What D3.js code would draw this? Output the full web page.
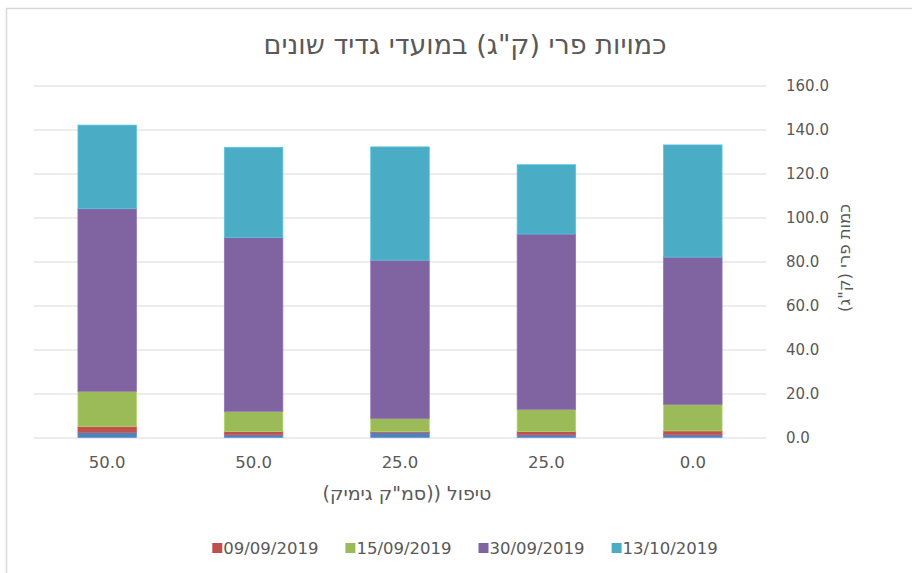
<!DOCTYPE html>
<html>
<head>
<meta charset="utf-8">
<script src="https://cdn.jsdelivr.net/npm/d3@7"></script>
<style>
  body { margin: 0; background: #fff; }
  text { font-family: "DejaVu Sans", sans-serif; fill: #595959; }
</style>
</head>
<body>
<script>
// categories (treatment), left to right as in the picture
var categories = ["50.0", "50.0", "25.0", "25.0", "0.0"];

// harvest dates, bottom to top; the first one has no legend entry
var seriesNames = ["02/09/2019", "09/09/2019", "15/09/2019", "30/09/2019", "13/10/2019"];
var seriesColors = ["#4f81bd", "#c0504d", "#9bbb59", "#8064a2", "#4bacc6"];
var inLegend = [false, true, true, true, true];

var s0 = [2.3, 1.2, 2.3, 1.2, 1.2];
var s1 = [2.7, 1.5, 0.4, 1.5, 1.8];
var s2 = [16.0, 9.2, 5.9, 10.1, 12.0];
var s3 = [83.0, 79.0, 72.0, 79.7, 67.0];
var s4 = [38.0, 41.0, 51.5, 31.5, 51.0];

var yTicks = [0, 20, 40, 60, 80, 100, 120, 140, 160];

var title = "כמויות פרי (ק\"ג) במועדי גדיד שונים";
var xTitle = "טיפול ((סמ\"ק גימיק)";
var yTitle = "כמות פרי (ק\"ג)";

var W = 912, H = 573;
var plot = {left: 34, right: 766, top: 85.5, bottom: 437.5};

var svg = d3.select("body").append("svg")
    .attr("width", W)
    .attr("height", H);

// chart frame (runs off right and bottom edges)
svg.append("rect")
    .attr("x", 6.5).attr("y", 8.5)
    .attr("width", W + 10).attr("height", H + 10)
    .style("fill", "#fff")
    .style("stroke", "#d9d9d9")
    .style("stroke-width", 1.5);

var x = d3.scaleBand()
    .domain(d3.range(categories.length))
    .range([plot.left, plot.right])
    .paddingInner(0.6)
    .paddingOuter(0.3);

var y = d3.scaleLinear()
    .domain([0, 160])
    .range([plot.bottom, plot.top]);

// gridlines
svg.append("g")
    .attr("class", "grid")
    .attr("transform", "translate(" + plot.left + ",0)")
    .call(d3.axisRight(y).tickValues(yTicks).tickSize(plot.right - plot.left).tickFormat(""))
    .call(function(g) {
      g.select(".domain").remove();
      g.selectAll("line").style("stroke", "#d9d9d9").style("stroke-width", 1);
    });

// right axis labels
svg.append("g")
    .attr("transform", "translate(" + plot.right + ",0)")
    .call(d3.axisRight(y).tickValues(yTicks).tickSize(0).tickPadding(20).tickFormat(d3.format(".1f")))
    .call(function(g) {
      g.select(".domain").remove();
      g.selectAll("text")
        .style("font-size", "15px")
        .style("fill", "#595959")
        .style("font-family", "'DejaVu Sans', sans-serif");
    });

// stack
var table = categories.map(function(c, i) {
  return {i: i, s0: s0[i], s1: s1[i], s2: s2[i], s3: s3[i], s4: s4[i]};
});
var keys = ["s0", "s1", "s2", "s3", "s4"];
var stacked = d3.stack().keys(keys)(table);

svg.append("g")
  .selectAll("g.layer")
  .data(stacked)
  .enter().append("g")
    .attr("class", "layer")
    .style("fill", function(d, k) { return seriesColors[k]; })
    .style("stroke", function(d, k) { return d3.color(seriesColors[k]).brighter(0.4); })
    .style("stroke-width", 0.75)
  .selectAll("rect")
    .data(function(d) { return d; })
    .enter().append("rect")
      .attr("x", function(d) { return x(d.data.i); })
      .attr("y", function(d) { return y(d[1]); })
      .attr("width", x.bandwidth())
      .attr("height", function(d) { return y(d[0]) - y(d[1]); });

// x labels
svg.append("g")
    .attr("transform", "translate(0," + plot.bottom + ")")
    .call(d3.axisBottom(x).tickSize(0).tickPadding(19).tickFormat(function(i) { return categories[i]; }))
    .call(function(g) {
      g.select(".domain").remove();
      g.selectAll("text")
        .style("font-size", "16.5px")
        .style("fill", "#595959")
        .style("font-family", "'DejaVu Sans', sans-serif");
    });

// titles
svg.append("text")
    .attr("x", 465).attr("y", 54)
    .attr("text-anchor", "middle")
    .attr("direction", "rtl")
    .style("font-size", "27px")
    .text(title);

svg.append("text")
    .attr("x", 407).attr("y", 500)
    .attr("text-anchor", "middle")
    .attr("direction", "rtl")
    .style("font-size", "19px")
    .text(xTitle);

svg.append("text")
    .attr("text-anchor", "middle")
    .attr("direction", "rtl")
    .attr("transform", "translate(850," + 258 + ")rotate(-90)")
    .style("font-size", "16.5px")
    .text(yTitle);

// legend
var legendItems = seriesNames.map(function(n, k) { return {name: n, color: seriesColors[k], show: inLegend[k]}; })
    .filter(function(d) { return d.show; });

var legend = svg.append("g");
var lx = 0;
legendItems.forEach(function(d) {
  var item = legend.append("g").attr("transform", "translate(" + lx + ",0)");
  item.append("rect")
      .attr("x", 0).attr("y", -11)
      .attr("width", 10).attr("height", 10)
      .style("fill", d.color);
  var t = item.append("text")
      .attr("x", 11).attr("y", 0)
      .style("font-size", "16.5px")
      .text(d.name);
  lx += 11 + t.node().getComputedTextLength() + 27;
});
var lw = lx - 27;
legend.attr("transform", "translate(" + (465 - lw / 2) + ",554)");
</script>
</body>
</html>
